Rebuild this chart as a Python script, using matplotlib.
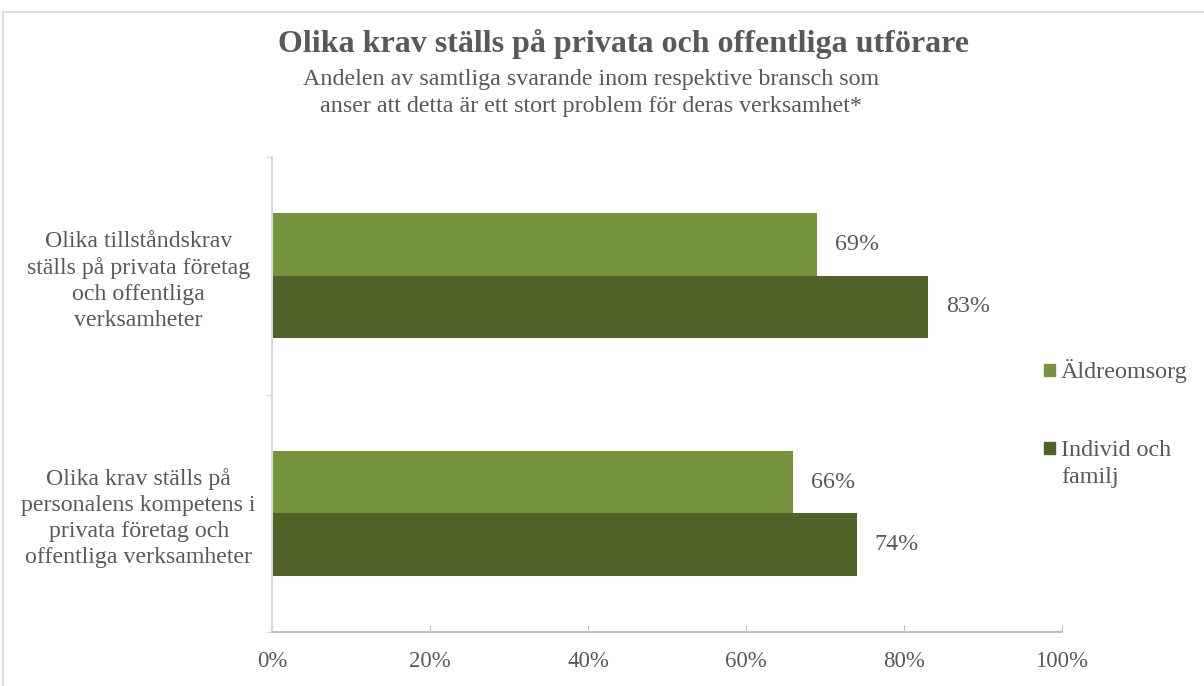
import matplotlib.pyplot as plt
import numpy as np
from matplotlib.patches import Rectangle

plt.rcParams['font.family'] = ['Liberation Serif', 'DejaVu Serif']

categories = ['Olika krav ställs på\npersonalens kompetens i\nprivata företag och\noffentliga verksamheter',
              'Olika tillståndskrav\nställs på privata företag\noch offentliga\nverksamheter']
series = ['Äldreomsorg', 'Individ och\nfamilj']
aldre = [66, 69]
individ = [74, 83]
colors = ['#77933C', '#4F6228']

txt = '#595959'
grey = '#D9D9D9'

W, H = 1204, 686
fig = plt.figure(figsize=(W / 100, H / 100), dpi=100)

# outer frame (chart area border, cut off on right/bottom)
fig.patches.append(Rectangle((3 / W, -0.05), 1.1, 1.05 - 12 / H, transform=fig.transFigure,
                             fill=False, edgecolor=grey, lw=1.2))

ax = fig.add_axes([272 / W, 54 / H, 790 / W, 475 / H])

y = np.arange(len(categories))
h = 0.263
b1 = ax.barh(y + h / 2, aldre, height=h, color=colors[0])
b2 = ax.barh(y - h / 2, individ, height=h, color=colors[1])
ax.bar_label(b1, labels=[f'{v}%' for v in aldre], padding=13, fontsize=17.3, color=txt)
ax.bar_label(b2, labels=[f'{v}%' for v in individ], padding=13, fontsize=17.3, color=txt)

ax.set_xlim(0, 100)
ax.set_ylim(-0.5, 1.5)
ax.set_xticks(range(0, 101, 20))
ax.set_xticklabels([f'{v}%' for v in range(0, 101, 20)])
ax.tick_params(axis='x', direction='in', length=5, color='#BFBFBF', pad=14, labelsize=16.5,
               labelcolor=txt)

ax.set_yticks([-0.5, 0.5, 1.5])
ax.set_yticklabels([])
ax.tick_params(axis='y', which='major', direction='out', length=4, color=grey)
ax.set_yticks(y, minor=True)
ax.set_yticklabels(categories, minor=True, ha='center', multialignment='center',
                   fontsize=17.2, color=txt, linespacing=1.32)
ax.tick_params(axis='y', which='minor', length=0, pad=96)

for s in ['top', 'right']:
    ax.spines[s].set_visible(False)
ax.spines['left'].set_color(grey)
ax.spines['bottom'].set_color('#BFBFBF')
ax.spines['left'].set_linewidth(1.5)
ax.spines['bottom'].set_linewidth(1.5)

fig.text(623 / W, 1 - 44 / H, 'Olika krav ställs på privata och offentliga utförare',
         ha='center', va='center', fontsize=23, fontweight='bold', color=txt)
fig.text(591 / W, 1 - 93 / H,
         'Andelen av samtliga svarande inom respektive bransch som\nanser att detta är ett stort problem för deras verksamhet*',
         ha='center', va='center', fontsize=17.3, color=txt, linespacing=1.32)

# legend
fig.patches.append(Rectangle((1044 / W, 1 - 376 / H), 11 / W, 12 / H,
                             transform=fig.transFigure, color=colors[0]))
fig.text(1061 / W, 1 - 371 / H, series[0], ha='left', va='center',
         fontsize=17.4, color=txt)
fig.patches.append(Rectangle((1044 / W, 1 - 454 / H), 11 / W, 12 / H,
                             transform=fig.transFigure, color=colors[1]))
fig.text(1061 / W, 1 - 464 / H, series[1], ha='left', va='center',
         fontsize=17.4, color=txt, linespacing=1.38)

fig.savefig('out.png', dpi=100)
